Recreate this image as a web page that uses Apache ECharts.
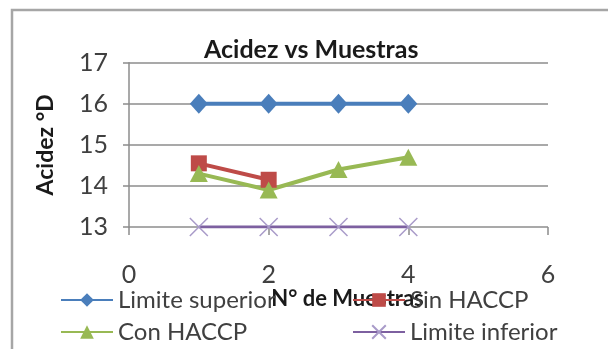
<!DOCTYPE html>
<html>
<head>
<meta charset="utf-8">
<script src="https://cdn.jsdelivr.net/npm/echarts@6/dist/echarts.min.js"></script>
<style>
  html, body { margin: 0; padding: 0; background: #fff; }
  #chart { width: 608px; height: 349px; }
</style>
</head>
<body>
<div id="chart"></div>
<script>
// valores
const muestras = [1, 2, 3, 4]
const limiteSuperior = [16, 16, 16, 16]
const sinHaccp = [14.55, 14.15]
const conHaccp = [14.3, 13.9, 14.4, 14.7]
const limiteInferior = [13, 13, 13, 13]
const yTicks = [13, 14, 15, 16, 17]
const xTicks = [0, 2, 4, 6]

const fontFamily = 'Lato, "Liberation Sans", sans-serif'
const textColor = '#404040'
const gridColor = '#8c8c8c'

const toPoints = (values) => values.map((v, i) => [muestras[i], v])

// dos columnas de leyenda, cada una vertical
const legendBase = {
  orient: 'vertical',
  top: 288,
  width: 240,
  height: 80,
  padding: 0,
  itemGap: 8,
  itemWidth: 52,
  itemHeight: 17,
  textStyle: { fontFamily, fontSize: 24, lineHeight: 24, color: textColor }
}

const chart = echarts.init(document.getElementById('chart'))
chart.setOption({
  backgroundColor: '#fff',
  animation: false,
  graphic: [{
    type: 'rect',
    shape: { x: 12, y: 10, width: 700, height: 500 },
    style: { fill: 'none', stroke: '#a6a6a6', lineWidth: 2.5 },
    z: -1
  }],
  title: {
    text: 'Acidez vs Muestras',
    left: 204,
    top: 37,
    padding: 0,
    textStyle: { fontFamily, fontSize: 25, fontWeight: 'bold', color: '#1a1a1a' }
  },
  legend: [
    Object.assign({}, legendBase, { id: 'col1', left: 60, data: ['Limite superior', 'Con HACCP'] }),
    Object.assign({}, legendBase, { id: 'col2', left: 352, data: ['Sin HACCP', 'Limite inferior'] })
  ],
  grid: { left: 129, right: 60, top: 62.7, bottom: 122 },
  xAxis: {
    type: 'value',
    min: xTicks[0],
    max: xTicks[xTicks.length - 1],
    interval: 2,
    name: 'N° de Muestras',
    nameLocation: 'middle',
    nameGap: 48,
    nameTextStyle: { fontFamily, fontSize: 22, fontWeight: 'bold', color: '#1a1a1a', padding: [0, 0, 0, 18] },
    axisLine: { show: false },
    axisTick: { show: true, length: 8, lineStyle: { color: gridColor, width: 1.5 } },
    splitLine: { show: false },
    axisLabel: { fontFamily, fontSize: 25, color: textColor, margin: 35 }
  },
  yAxis: {
    type: 'value',
    min: yTicks[0],
    max: yTicks[yTicks.length - 1],
    interval: 1,
    name: 'Acidez °D',
    nameLocation: 'middle',
    nameRotate: 90,
    nameGap: 72,
    nameTextStyle: { fontFamily, fontSize: 23, fontWeight: 'bold', color: '#1a1a1a' },
    axisLine: { show: true, lineStyle: { color: gridColor, width: 1.5 } },
    axisTick: { show: true, length: 6, lineStyle: { color: gridColor, width: 1.5 } },
    splitLine: { show: true, lineStyle: { color: gridColor, width: 1.5 } },
    axisLabel: { fontFamily, fontSize: 25, color: textColor, margin: 21 }
  },
  series: [
    {
      name: 'Limite superior',
      type: 'line',
      data: toPoints(limiteSuperior),
      symbol: 'diamond',
      symbolSize: [18, 20],
      lineStyle: { color: '#4a7ebb', width: 4 },
      itemStyle: { color: '#4a7ebb' }
    },
    {
      name: 'Sin HACCP',
      type: 'line',
      data: toPoints(sinHaccp),
      symbol: 'rect',
      symbolSize: 16,
      lineStyle: { color: '#be4b48', width: 4 },
      itemStyle: { color: '#be4b48' }
    },
    {
      name: 'Con HACCP',
      type: 'line',
      data: toPoints(conHaccp),
      symbol: 'triangle',
      symbolSize: [18, 17],
      lineStyle: { color: '#98b954', width: 4 },
      itemStyle: { color: '#98b954' }
    },
    {
      name: 'Limite inferior',
      type: 'line',
      data: toPoints(limiteInferior),
      symbol: 'path://M0,0L10,10M10,0L0,10',
      symbolSize: 18,
      lineStyle: { color: '#7d60a0', width: 3 },
      itemStyle: { color: 'none', borderColor: '#a99bc9', borderWidth: 1.5 }
    }
  ]
})
</script>
</body>
</html>
